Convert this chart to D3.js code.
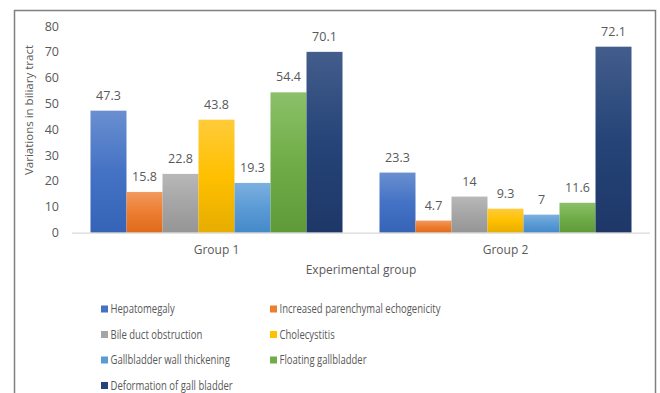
<!DOCTYPE html>
<html>
<head>
<meta charset="utf-8">
<script src="https://cdn.jsdelivr.net/npm/d3@7"></script>
<style>
  body { margin: 0; background: #fff; }
  text { font-family: "Open Sans", "Liberation Sans", sans-serif; fill: #595959; }
</style>
</head>
<body>
<svg id="chart" width="660" height="393"></svg>
<script>
const groups = ['Group 1', 'Group 2'];
const series = [
    'Hepatomegaly',
    'Increased parenchymal echogenicity',
    'Bile duct obstruction',
    'Cholecystitis',
    'Gallbladder wall thickening',
    'Floating gallbladder',
    'Deformation of gall bladder'
];
const group1Values = [47.3, 15.8, 22.8, 43.8, 19.3, 54.4, 70.1];
const group2Values = [23.3, 4.7, 14, 9.3, 7, 11.6, 72.1];
const yTicks = [0, 10, 20, 30, 40, 50, 60, 70, 80];

// office palette: [top (light), base, bottom (dark)]
const colors = [
    ['#6a8fd0', '#4472c4', '#3563b5'],
    ['#f29a5e', '#ed7d31', '#e06a1c'],
    ['#b8b8b8', '#a5a5a5', '#959595'],
    ['#ffcb3a', '#ffc000', '#e6ad00'],
    ['#7cb0df', '#5b9bd5', '#4589c9'],
    ['#8bc06a', '#70ad47', '#5f9a3a'],
    ['#435d8c', '#264478', '#1e3768']
];

const values = [group1Values, group2Values];
const data = groups.map((g, gi) => ({
    group: g,
    bars: series.map((s, si) => ({ key: s, index: si, value: values[gi][si] }))
}));

const svg = d3.select('#chart');

// frame
svg.append('path')
    .attr('d', 'M14.5,400 V10.5 H655.5 V400')
    .attr('fill', 'none')
    .attr('stroke', '#7f7f7f')
    .attr('stroke-width', 1.5);

const defs = svg.append('defs');
colors.forEach((c, i) => {
    const grad = defs.append('linearGradient')
        .attr('id', 'grad' + i)
        .attr('x1', 0).attr('y1', 0).attr('x2', 0).attr('y2', 1);
    grad.append('stop').attr('offset', '0%').attr('stop-color', c[0]);
    grad.append('stop').attr('offset', '50%').attr('stop-color', c[1]);
    grad.append('stop').attr('offset', '100%').attr('stop-color', c[2]);
});

const plotLeft = 72, plotRight = 650, plotTop = 26.3, plotBottom = 232.7;

const y = d3.scaleLinear().domain([0, 80]).range([plotBottom, plotTop]);

const x0 = d3.scaleBand()
    .domain(groups)
    .range([plotLeft, plotRight])
    .paddingInner(0.128)
    .paddingOuter(0.064);

const x1 = d3.scaleBand()
    .domain(series)
    .range([0, x0.bandwidth()])
    .padding(0);

// y tick labels
svg.append('g').selectAll('text')
    .data(yTicks)
    .join('text')
    .attr('x', 59)
    .attr('y', d => y(d))
    .attr('dy', '0.35em')
    .attr('text-anchor', 'end')
    .style('font-size', '12.5px')
    .text(d => d);

// bars
const gGroups = svg.append('g').selectAll('g')
    .data(data)
    .join('g')
    .attr('transform', d => `translate(${x0(d.group)},0)`);

gGroups.selectAll('rect')
    .data(d => d.bars)
    .join('rect')
    .attr('x', d => x1(d.key))
    .attr('y', d => y(d.value))
    .attr('width', x1.bandwidth())
    .attr('height', d => y(0) - y(d.value))
    .attr('fill', d => `url(#grad${d.index})`);

gGroups.selectAll('text')
    .data(d => d.bars)
    .join('text')
    .attr('x', d => x1(d.key) + x1.bandwidth() / 2)
    .attr('y', d => y(d.value) - 11)
    .attr('text-anchor', 'middle')
    .style('font-size', '12.5px')
    .text(d => d.value);

// baseline
svg.append('line')
    .attr('x1', plotLeft).attr('x2', plotRight)
    .attr('y1', plotBottom + 0.5).attr('y2', plotBottom + 0.5)
    .attr('stroke', '#d9d9d9')
    .attr('stroke-width', 1.2);

// group labels
svg.append('g').selectAll('text')
    .data(groups)
    .join('text')
    .attr('x', d => x0(d) + x0.bandwidth() / 2)
    .attr('y', 254)
    .attr('text-anchor', 'middle')
    .style('font-size', '12px')
    .text(d => d);

// axis titles
svg.append('text')
    .attr('x', (plotLeft + plotRight) / 2)
    .attr('y', 274)
    .attr('text-anchor', 'middle')
    .style('font-size', '12px')
    .text('Experimental group');

svg.append('text')
    .attr('transform', 'translate(33,110) rotate(-90)')
    .attr('text-anchor', 'middle')
    .style('font-size', '11.5px')
    .text('Variations in biliary tract');

// legend (condensed text, like the narrow office font)
const legendCols = [101, 270];
const legendRows = [309, 334.5, 360, 385.5];
const legend = svg.append('g').attr('class', 'legend').selectAll('g')
    .data(series)
    .join('g')
    .attr('transform', (d, i) => `translate(${legendCols[i % 2]},${legendRows[Math.floor(i / 2)]})`);

legend.append('rect')
    .attr('x', 0).attr('y', -3.5)
    .attr('width', 7).attr('height', 7)
    .attr('fill', (d, i) => colors[i][1]);

legend.append('text')
    .attr('transform', 'translate(9.5,0) scale(0.76,1)')
    .attr('dy', '0.35em')
    .style('font-size', '12.5px')
    .text(d => d);
</script>
</body>
</html>
